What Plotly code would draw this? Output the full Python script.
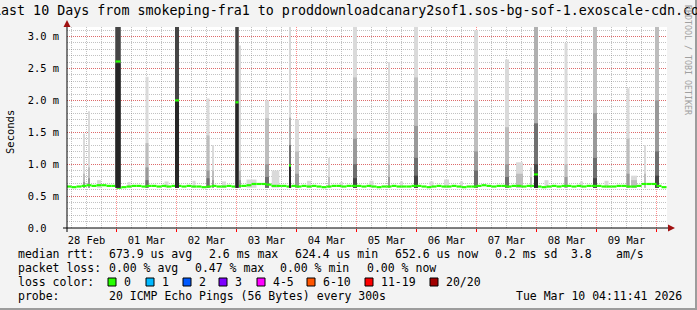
import pandas as pd
import plotly.graph_objects as go

# ---------------- data ----------------
START = "2026-02-28 04:11:41"
END = "2026-03-10 04:11:41"

# median rtt (ms), one value per 2 hours starting 2026-02-28 04:00
median_start = "2026-02-28 04:00"
median_step_hours = 2
median_ms = [
    0.65, 0.64, 0.65, 0.66, 0.67, 0.66, 0.67, 0.67, 0.66, 0.66,
    0.63, 0.64, 0.65, 0.66, 0.66, 0.65, 0.66, 0.66, 0.65, 0.66, 0.65, 0.66,
    0.66, 0.65, 0.66, 0.65, 0.65, 0.64, 0.65, 0.66, 0.65, 0.65, 0.66, 0.65,
    0.66, 0.66, 0.67, 0.69, 0.69, 0.69, 0.68, 0.66, 0.66, 0.66, 0.65, 0.66,
    0.65, 0.66, 0.65, 0.66, 0.65, 0.64, 0.65, 0.66, 0.66, 0.65, 0.66, 0.66,
    0.66, 0.65, 0.66, 0.65, 0.64, 0.65, 0.65, 0.66, 0.65, 0.65, 0.65, 0.66,
    0.66, 0.65, 0.64, 0.65, 0.66, 0.65, 0.65, 0.66, 0.65, 0.64, 0.65, 0.65,
    0.66, 0.67, 0.66, 0.65, 0.66, 0.66, 0.65, 0.66, 0.66, 0.65, 0.66, 0.66,
    0.65, 0.64, 0.65, 0.66, 0.65, 0.66, 0.66, 0.65, 0.66, 0.65, 0.66, 0.66,
    0.66, 0.65, 0.65, 0.65, 0.66, 0.66, 0.65, 0.65, 0.66, 0.69, 0.69, 0.69,
    0.66, 0.64,
]

# smoke spikes: centre time, duration (minutes), smoke tops per shade (ms, light -> dark), median (ms)
spike_time = [
    "2026-02-28 11:00", "2026-02-28 13:00", "2026-03-01 00:36", "2026-03-01 12:12",
    "2026-03-02 00:12", "2026-03-02 12:36", "2026-03-02 14:36", "2026-03-03 00:12",
    "2026-03-03 01:24", "2026-03-03 12:12", "2026-03-03 21:24", "2026-03-04 00:12",
    "2026-03-04 13:00", "2026-03-04 23:24", "2026-03-05 13:00", "2026-03-05 23:48",
    "2026-03-06 23:48", "2026-03-07 12:12", "2026-03-07 17:12", "2026-03-07 21:48",
    "2026-03-07 23:48", "2026-03-08 11:48", "2026-03-08 23:24", "2026-03-09 12:36",
    "2026-03-09 15:00", "2026-03-09 19:24", "2026-03-10 00:12",
]
spike_minutes = [48, 48, 120, 72, 96, 72, 48, 72, 48, 96, 48, 96, 48, 96, 48, 96,
                 96, 96, 168, 48, 96, 72, 96, 72, 144, 48, 96]
smoke_l1 = [1.48, 1.83, 3.2, 2.37, 3.2, 2.03, 1.30, 3.2, 2.86, 2.00, 3.2, 1.70, 1.10, 3.2,
            2.60, 3.2, 3.10, 2.64, 1.03, 0.95, 3.2, 2.90, 3.2, 2.19, 0.82, 1.30, 3.2]
smoke_l2 = [0.85, 0.95, 3.2, 1.33, 3.2, 1.45, 0.90, 3.2, 0.90, 1.72, 1.73, 1.20, 0.80, 2.36,
            1.00, 2.36, 2.00, 1.58, 0.85, 0.80, 3.2, 1.00, 3.2, 1.40, 0.75, 0.85, 3.2]
smoke_l3 = [0.72, 0.78, 3.2, 0.95, 3.2, 0.90, 0.75, 3.2, 0.75, 1.00, 1.30, 0.85, 0.0, 1.40,
            0.80, 1.60, 1.20, 1.00, 0.0, 0.0, 1.64, 0.80, 1.80, 0.85, 0.0, 0.0, 2.00]
smoke_l4 = [0.0, 0.0, 3.2, 0.75, 3.2, 0.78, 0.0, 3.2, 0.0, 0.80, 1.00, 0.0, 0.0, 1.00,
            0.0, 1.10, 0.90, 0.80, 0.0, 0.0, 1.00, 0.0, 1.10, 0.0, 0.0, 0.0, 1.20]
smoke_l5 = [0.0, 0.0, 2.58, 0.0, 1.98, 0.0, 0.0, 1.95, 0.0, 0.0, 0.96, 0.0, 0.0, 0.78,
            0.0, 0.82, 0.0, 0.0, 0.0, 0.0, 0.86, 0.0, 0.78, 0.0, 0.0, 0.0, 0.82]
spike_median = [None, None, 2.61, None, 2.00, None, None, 1.97, None, None, 0.98, None,
                None, None, None, None, None, None, None, None, 0.84, None, None, None,
                None, None, None]

# small smoke bumps just above the median line
bump_time = ["2026-02-28 17:00", "2026-03-01 05:00", "2026-03-01 20:00", "2026-03-02 07:00",
             "2026-03-02 19:00", "2026-03-03 06:00", "2026-03-03 15:36", "2026-03-04 05:00",
             "2026-03-04 18:00", "2026-03-05 06:00", "2026-03-05 18:00", "2026-03-06 06:00",
             "2026-03-06 12:00", "2026-03-06 18:00", "2026-03-08 04:00", "2026-03-08 18:00",
             "2026-03-09 04:00"]
bump_minutes = [96, 72, 96, 72, 96, 240, 180, 96, 72, 96, 72, 96, 120, 72, 96, 72, 96]
bump_top = [0.75, 0.72, 0.73, 0.74, 0.73, 0.76, 0.90, 0.74, 0.72, 0.74, 0.73, 0.73,
            0.76, 0.73, 0.75, 0.73, 0.74]

smoke_floor_ms = 0.63

y_tick_vals = [0.0, 0.5, 1.0, 1.5, 2.0, 2.5, 3.0]
y_tick_text = ["0.0\u00a0\u00a0", "0.5 m", "1.0 m", "1.5 m", "2.0 m", "2.5 m", "3.0 m"]

loss_labels = ["0", "1", "2", "3", "4-5", "6-10", "11-19", "20/20"]
loss_colors = ["#26ff00", "#00b8ff", "#0059ff", "#7e00ff", "#ff00ff", "#ff5500", "#ff0000", "#a10000"]

# ---------------- styling / layout helpers ----------------
W, H = 697, 310
PL, PR, PT, PB = 67, 667, 27, 228
MONO = "DejaVu Sans Mono"
level_colors_normal = ["#dadada", "#bdbdbd", "#999999", "#6e6e6e", "#444444"]
level_colors_high = ["#d8d8d8", "#b0b0b0", "#707070", "#454545", "#262626"]
levels = [smoke_l1, smoke_l2, smoke_l3, smoke_l4, smoke_l5]
MED_HALF = 0.017


def px_x(X):
    return (X - PL) / (PR - PL)


def px_y(Y):
    return (PB - Y) / (PB - PT)


def bar(xs, hs, bs, ws, color):
    return go.Bar(x=xs, y=hs, base=bs, width=ws,
                  marker=dict(color=color, line=dict(width=0)),
                  hoverinfo="skip", showlegend=False)


def smoke_traces(idx, colors):
    out = []
    for tops, color in zip(levels, colors):
        xs, hs, bs, ws = [], [], [], []
        for i in idx:
            if tops[i] > smoke_floor_ms:
                xs.append(pd.Timestamp(spike_time[i]))
                ws.append(spike_minutes[i] * 60000)
                bs.append(smoke_floor_ms)
                hs.append(tops[i] - smoke_floor_ms)
        if xs:
            out.append(bar(xs, hs, bs, ws, color))
    return out


normal_idx = [i for i, m in enumerate(spike_median) if m is None]
high_idx = [i for i, m in enumerate(spike_median) if m is not None]

traces = []
# baseline bumps
traces.append(bar([pd.Timestamp(t) for t in bump_time],
                  [b - smoke_floor_ms for b in bump_top],
                  [smoke_floor_ms] * len(bump_top),
                  [m * 60000 for m in bump_minutes], level_colors_normal[0]))
traces += smoke_traces(normal_idx, level_colors_normal)

# median band (loss 0 colour)
step = pd.Timedelta(hours=median_step_hours)
m0 = pd.Timestamp(median_start)
med_x = [m0 + step * i + step / 2 for i in range(len(median_ms))]
traces.append(bar(med_x, [2 * MED_HALF] * len(median_ms), [m - MED_HALF for m in median_ms],
                  [step.total_seconds() * 1000] * len(median_ms), loss_colors[0]))

traces += smoke_traces(high_idx, level_colors_high)
traces.append(bar([pd.Timestamp(spike_time[i]) for i in high_idx],
                  [2 * MED_HALF] * len(high_idx),
                  [spike_median[i] - MED_HALF for i in high_idx],
                  [spike_minutes[i] * 60000 for i in high_idx], loss_colors[0]))

fig = go.Figure(traces)

shapes = [
    # axis lines
    dict(type="line", xref="paper", yref="paper", x0=px_x(63), x1=px_x(670), y0=0, y1=0,
         line=dict(color="black", width=1)),
    dict(type="line", xref="paper", yref="paper", x0=0, x1=0, y0=px_y(232), y1=px_y(24),
         line=dict(color="black", width=1)),
    # arrows
    dict(type="path", xref="paper", yref="paper",
         path=f"M {px_x(668)} {px_y(224.5)} L {px_x(675)} {px_y(228)} L {px_x(668)} {px_y(231.5)} Z",
         fillcolor="#a01010", line=dict(width=0)),
    dict(type="path", xref="paper", yref="paper",
         path=f"M {px_x(63.5)} {px_y(27)} L {px_x(67)} {px_y(20)} L {px_x(70.5)} {px_y(27)} Z",
         fillcolor="#a01010", line=dict(width=0)),
    # frame shading (right / bottom)
    dict(type="rect", xref="paper", yref="paper", x0=px_x(695), x1=px_x(698), y0=px_y(311), y1=px_y(-1),
         fillcolor="#9c9c9c", line=dict(width=0)),
    dict(type="rect", xref="paper", yref="paper", x0=px_x(-1), x1=px_x(698), y0=px_y(311), y1=px_y(308),
         fillcolor="#9c9c9c", line=dict(width=0)),
]

annotations = [
    dict(text="Last 10 Days from smokeping-fra1 to proddownloadcanary2sof1.sos-bg-sof-1.exoscale-cdn.com",
         xref="paper", yref="paper", x=px_x(350), y=px_y(10), xanchor="center", yanchor="middle",
         showarrow=False, font=dict(family=MONO, size=13.33, color="black")),
    dict(text="Seconds", xref="paper", yref="paper", x=px_x(10), y=px_y(132), textangle=-90,
         xanchor="center", yanchor="middle", showarrow=False,
         font=dict(family=MONO, size=10.5, color="black")),
    dict(text="RRDTOOL / TOBI OETIKER", xref="paper", yref="paper", x=px_x(688), y=px_y(60),
         textangle=90, xanchor="center", yanchor="middle", showarrow=False,
         font=dict(family=MONO, size=8.3, color="#a0a0a0")),
]


def legend_text(txt, X, Y):
    annotations.append(dict(text=txt, xref="paper", yref="paper", x=px_x(X), y=px_y(Y),
                            xanchor="left", yanchor="middle", showarrow=False,
                            font=dict(family=MONO, size=11.5, color="black")))


L1, L2, L3, L4 = 254, 268, 282, 296
legend_text("median rtt:", 16, L1)
legend_text("673.9 us avg", 107, L1)
legend_text("2.6 ms max", 207, L1)
legend_text("624.4 us min", 293, L1)
legend_text("652.6 us now", 393, L1)
legend_text("0.2 ms sd", 493, L1)
legend_text("3.8", 569, L1)
legend_text("am/s", 614, L1)

legend_text("packet loss:", 16, L2)
legend_text("0.00 % avg", 107, L2)
legend_text("0.47 % max", 193, L2)
legend_text("0.00 % min", 278, L2)
legend_text("0.00 % now", 365, L2)

legend_text("loss color:", 16, L3)
box_x = [108, 146, 183, 219, 257, 307, 365, 430]
for lab, col, bx in zip(loss_labels, loss_colors, box_x):
    shapes.append(dict(type="rect", xref="paper", yref="paper", x0=px_x(bx), x1=px_x(bx + 8),
                       y0=px_y(L3 + 4), y1=px_y(L3 - 4), fillcolor=col,
                       line=dict(color="black", width=1)))
    legend_text(lab, bx + 14, L3)

legend_text("probe:", 16, L4)
legend_text("20 ICMP Echo Pings (56 Bytes) every 300s", 107, L4)
legend_text("Tue Mar 10 04:11:41 2026", 514, L4)

fig.update_layout(
    width=W, height=H, autosize=False,
    margin=dict(l=PL, r=W - PR, t=PT, b=H - PB, pad=0),
    paper_bgcolor="#f3f3f3", plot_bgcolor="white",
    barmode="overlay", showlegend=False,
    shapes=shapes, annotations=annotations,
    xaxis=dict(
        type="date", range=[START, END], tickformat="%d %b", dtick=86400000,
        tick0="2026-02-28 00:00", ticklabelmode="period",
        ticks="outside", ticklen=3, tickcolor="#ff0000", tickwidth=1,
        showgrid=True, gridcolor="rgba(255,0,0,0.45)", griddash="1px,1px", gridwidth=1,
        minor=dict(dtick=21600000, tick0="2026-02-28 00:00", showgrid=True,
                   gridcolor="rgba(120,120,120,0.45)", griddash="1px,1px", ticks=""),
        showline=False, zeroline=False, fixedrange=True,
        tickfont=dict(family=MONO, size=10.4, color="black"),
    ),
    yaxis=dict(
        range=[0, 3.15], tickvals=y_tick_vals, ticktext=y_tick_text,
        ticks="", showgrid=True, gridcolor="rgba(255,0,0,0.45)", griddash="1px,1px", gridwidth=1,
        minor=dict(dtick=0.1, showgrid=True, gridcolor="rgba(120,120,120,0.45)",
                   griddash="1px,1px", ticks=""),
        showline=False, zeroline=False, fixedrange=True, ticklabelstandoff=7,
        tickfont=dict(family=MONO, size=10.4, color="black"),
    ),
)

fig.write_html("out.html")
